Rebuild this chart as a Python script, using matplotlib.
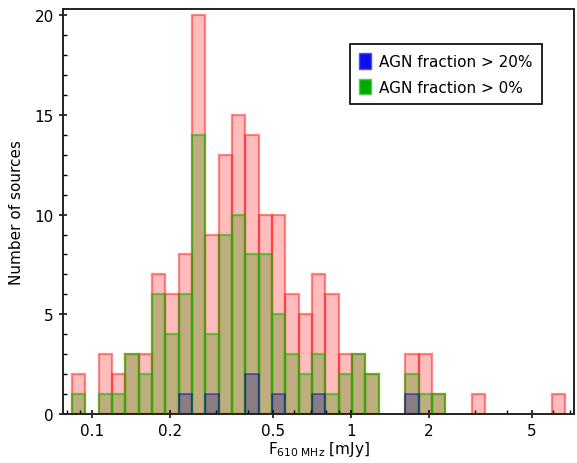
import numpy as np
import matplotlib
matplotlib.use("Agg")
from matplotlib import pyplot as plt
from matplotlib.patches import Patch

# log-spaced bins of F_610MHz [mJy]
bin_lo = 0.0839
bin_hi = 6.70
n_bins = 37

# counts per bin (all sources, AGN fraction > 0%, AGN fraction > 20%)
n_all = [2, 0, 3, 2, 3, 3, 7, 6, 8, 20, 9, 13, 15, 14, 10, 10, 6, 5, 7, 6,
         3, 3, 2, 0, 0, 3, 3, 1, 0, 0, 1, 0, 0, 0, 0, 0, 1]
n_agn0 = [1, 0, 1, 1, 3, 2, 6, 4, 6, 14, 4, 9, 10, 8, 8, 5, 3, 2, 3, 1,
          2, 3, 2, 0, 0, 2, 1, 1, 0, 0, 0, 0, 0, 0, 0, 0, 0]
n_agn20 = [0, 0, 0, 0, 0, 0, 0, 0, 1, 0, 1, 0, 0, 2, 0, 1, 0, 0, 1, 0,
           0, 0, 0, 0, 0, 1, 0, 0, 0, 0, 0, 0, 0, 0, 0, 0, 0]

xticks = [0.1, 0.2, 0.5, 1, 2, 5]
xticklabels = ["0.1", "0.2", "0.5", "1", "2", "5"]

edges = np.logspace(np.log10(bin_lo), np.log10(bin_hi), n_bins + 1)
left = edges[:-1]
width = np.diff(edges)


def draw(ax, counts, face, edge, lw):
    counts = np.asarray(counts, float)
    m = counts > 0
    ax.bar(left[m], counts[m], width=width[m], align="edge",
           facecolor=face, edgecolor=edge, linewidth=lw)


fig = plt.figure(figsize=(5.77, 4.64), dpi=100)
ax = fig.add_axes([0.109, 0.1056, 0.886, 0.8724])

draw(ax, n_all, (1, 0, 0, 0.26), (1, 0.1, 0.1, 0.5), 1.6)
draw(ax, n_agn0, (0.23, 0.56, 0, 0.33), (0.1, 0.72, 0, 0.6), 1.6)
draw(ax, n_agn20, (0, 0, 0.6, 0.28), (0, 0, 0.75, 0.45), 1.4)

ax.set_xscale("log")
ax.set_xlim(0.0773, 7.26)
ax.set_ylim(0, 20.3)
ax.set_xticks(xticks)
ax.set_xticklabels(xticklabels)
minor = [v * m for v in (0.01, 0.1, 1) for m in range(2, 10)]
minor = [v for v in minor if 0.0773 < v < 7.26 and v not in (0.2, 0.5, 2, 5)]
ax.set_xticks(minor, minor=True)
ax.set_xticklabels([], minor=True)
ax.set_yticks([0, 5, 10, 15, 20])
ax.set_yticks(range(0, 21), minor=True)

ax.tick_params(which="major", direction="inout", length=6, width=1.1,
               labelsize=11, colors="black")
ax.tick_params(which="minor", direction="in", length=3, width=1.0)
for s in ax.spines.values():
    s.set_linewidth(1.4)
    s.set_color("#222222")

ax.set_xlabel(r"F$_{610\ \mathrm{MHz}}$ [mJy]", fontsize=11, labelpad=1)
ax.set_ylabel("Number of sources", fontsize=11, labelpad=8)

handles = [Patch(facecolor=(0.05, 0.05, 0.95), edgecolor=(0.3, 0.3, 1.0), lw=1.0),
           Patch(facecolor=(0.0, 0.67, 0.0), edgecolor=(0.3, 0.8, 0.3), lw=1.0)]
leg = ax.legend(handles, ["AGN fraction > 20%", "AGN fraction > 0%"],
                loc="upper right", bbox_to_anchor=(0.9374, 0.9136),
                borderaxespad=0, fontsize=11,
                fancybox=False, framealpha=1, edgecolor="black",
                handlelength=0.8, handleheight=1.15, handletextpad=0.55,
                borderpad=0.6, labelspacing=0.65)
leg.get_frame().set_linewidth(1.2)

fig.savefig("out.png", dpi=100)
